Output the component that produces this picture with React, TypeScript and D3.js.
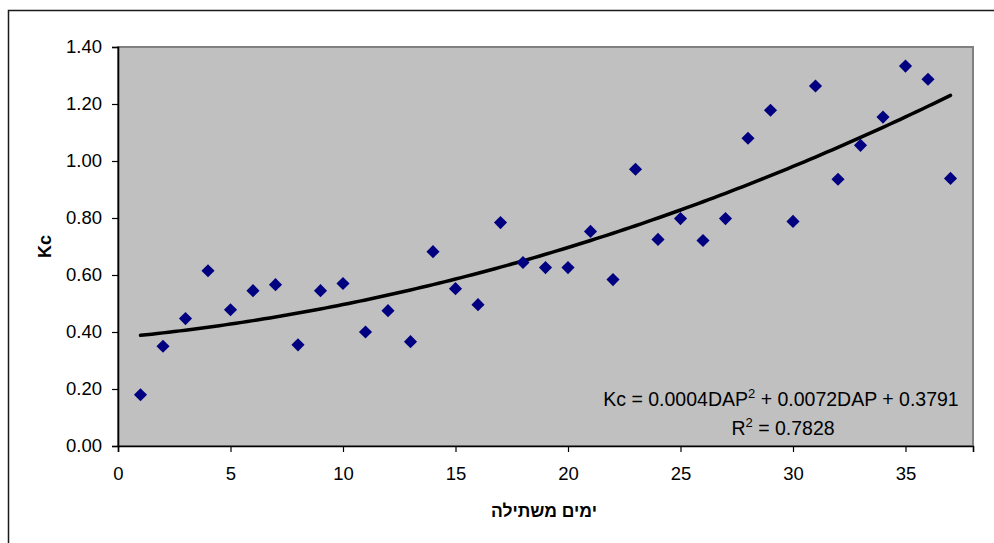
import React, { useRef, useEffect } from 'react';
import * as d3 from 'd3';

// days after planting
const days = [
	1, 2, 3, 4, 5, 6, 7, 8, 9, 10, 11, 12, 13, 14, 15, 16, 17, 18, 19, 20, 21, 22, 23, 24, 25, 26, 27, 28, 29, 30, 31, 32, 33, 34, 35,
	36, 37,
];
// measured Kc
const kcValues = [
	0.18, 0.35, 0.447, 0.615, 0.478, 0.545, 0.566, 0.355, 0.545, 0.57, 0.4, 0.475, 0.366, 0.682, 0.552, 0.496, 0.784, 0.644, 0.626,
	0.626, 0.753, 0.584, 0.971, 0.725, 0.798, 0.721, 0.798, 1.08, 1.178, 0.788, 1.263, 0.936, 1.055, 1.154, 1.333, 1.287, 0.939,
];
const xTicks = [0, 5, 10, 15, 20, 25, 30, 35];
const yTicks = [0, 0.2, 0.4, 0.6, 0.8, 1.0, 1.2, 1.4];
const xTitle = 'ימים משתילה';
const yTitle = 'Kc';
const eqLine1 = ['Kc = 0.0004DAP', '2', ' + 0.0072DAP + 0.3791'];
const eqLine2 = ['R', '2', ' = 0.7828'];

/* least squares quadratic fit, like the excel trendline */
function polyFit(xs: number[], ys: number[]) {
	const s = [0, 0, 0, 0, 0];
	const t = [0, 0, 0];
	xs.forEach((x, i) => {
		for (let k = 0; k < 5; k++) s[k] += Math.pow(x, k);
		for (let k = 0; k < 3; k++) t[k] += Math.pow(x, k) * ys[i];
	});
	const m = [
		[s[0], s[1], s[2], t[0]],
		[s[1], s[2], s[3], t[1]],
		[s[2], s[3], s[4], t[2]],
	];
	for (let c = 0; c < 3; c++) {
		for (let r = c + 1; r < 3; r++) {
			const f = m[r][c] / m[c][c];
			for (let k = c; k < 4; k++) m[r][k] -= f * m[c][k];
		}
	}
	const coef = [0, 0, 0];
	for (let r = 2; r >= 0; r--) {
		let v = m[r][3];
		for (let k = r + 1; k < 3; k++) v -= m[r][k] * coef[k];
		coef[r] = v / m[r][r];
	}
	return (x: number) => coef[0] + coef[1] * x + coef[2] * x * x;
}

export default function App() {
	const svgWidth = 994;
	const svgHeight = 543;
	const ref = useRef<SVGSVGElement>(null);

	useEffect(() => {
		if (!ref.current) return;
		const plot = { left: 118, top: 47, right: 973, bottom: 446 };
		const font = '"Liberation Sans", Arial, sans-serif';

		const svg = d3.select(ref.current);
		svg.selectAll('*').remove();

		// outer chart border
		svg.append('rect')
			.attr('x', 8.5)
			.attr('y', 10.5)
			.attr('width', 1100)
			.attr('height', 700)
			.attr('fill', '#fff')
			.attr('stroke', '#1a1a1a')
			.attr('stroke-width', 1.5);

		const xScale = d3.scaleLinear().domain([0, 38]).range([plot.left, plot.right]);
		const yScale = d3.scaleLinear().domain([0, 1.4]).range([plot.bottom, plot.top]);

		// plot area
		svg.append('rect')
			.attr('x', plot.left)
			.attr('y', plot.top)
			.attr('width', plot.right - plot.left)
			.attr('height', plot.bottom - plot.top)
			.attr('fill', '#c0c0c0')
			.attr('stroke', '#808080')
			.attr('stroke-width', 2);

		const xAxis = d3.axisBottom(xScale).tickValues(xTicks).tickSize(6).tickPadding(15).tickFormat(d3.format('d'));
		const yAxis = d3.axisLeft(yScale).tickValues(yTicks).tickSize(6).tickPadding(10).tickFormat(d3.format('.2f'));

		const gx = svg.append('g').attr('transform', `translate(0,${plot.bottom})`).call(xAxis);
		const gy = svg.append('g').attr('transform', `translate(${plot.left},0)`).call(yAxis);
		[gx, gy].forEach((g) => {
			g.select('.domain').attr('stroke', '#000').attr('stroke-width', 1.6);
			g.selectAll('.tick line').attr('stroke', '#000').attr('stroke-width', 1.2);
			g.selectAll('.tick text').attr('fill', '#000').style('font-family', font).style('font-size', '18.5px');
		});

		// trendline
		const fit = polyFit(days, kcValues);
		const xs = d3.range(days[0], days[days.length - 1] + 0.001, 0.25);
		const line = d3
			.line<number>()
			.x((d) => xScale(d))
			.y((d) => yScale(fit(d)));
		svg.append('path')
			.datum(xs)
			.attr('d', line)
			.attr('fill', 'none')
			.attr('stroke', '#000')
			.attr('stroke-width', 3.5)
			.attr('stroke-linecap', 'round');

		// points
		const diamond = d3.symbol().type(d3.symbolDiamond2).size(110);
		svg.append('g')
			.selectAll('path')
			.data(days)
			.enter()
			.append('path')
			.attr('d', diamond)
			.attr('transform', (d, i) => `translate(${xScale(d)},${yScale(kcValues[i])})`)
			.attr('fill', '#000080');

		// equation
		const eq = svg
			.append('text')
			.attr('x', 781)
			.attr('y', 406)
			.attr('text-anchor', 'middle')
			.style('font-family', font)
			.style('font-size', '19.5px')
			.attr('fill', '#000');
		eq.append('tspan').text(eqLine1[0]);
		eq.append('tspan').attr('dy', -8).style('font-size', '13px').text(eqLine1[1]);
		eq.append('tspan').attr('dy', 8).text(eqLine1[2]);
		const r2 = svg
			.append('text')
			.attr('x', 783)
			.attr('y', 435)
			.attr('text-anchor', 'middle')
			.style('font-family', font)
			.style('font-size', '19.5px')
			.attr('fill', '#000');
		r2.append('tspan').text(eqLine2[0]);
		r2.append('tspan').attr('dy', -8).style('font-size', '13px').text(eqLine2[1]);
		r2.append('tspan').attr('dy', 8).text(eqLine2[2]);

		// axis titles
		svg.append('text')
			.attr('x', 544)
			.attr('y', 517)
			.attr('text-anchor', 'middle')
			.attr('direction', 'rtl')
			.style('font-family', font)
			.style('font-size', '17.5px')
			.style('font-weight', 'bold')
			.text(xTitle);

		svg.append('text')
			.attr('transform', `translate(51,${(plot.top + plot.bottom) / 2}) rotate(-90)`)
			.attr('text-anchor', 'middle')
			.style('font-family', font)
			.style('font-size', '18px')
			.style('font-weight', 'bold')
			.text(yTitle);
	}, []);

	return (
		<svg
			ref={ref}
			width={svgWidth}
			height={svgHeight}
			style={{ position: 'absolute', left: 0, top: 0, display: 'block' }}
		/>
	);
}
